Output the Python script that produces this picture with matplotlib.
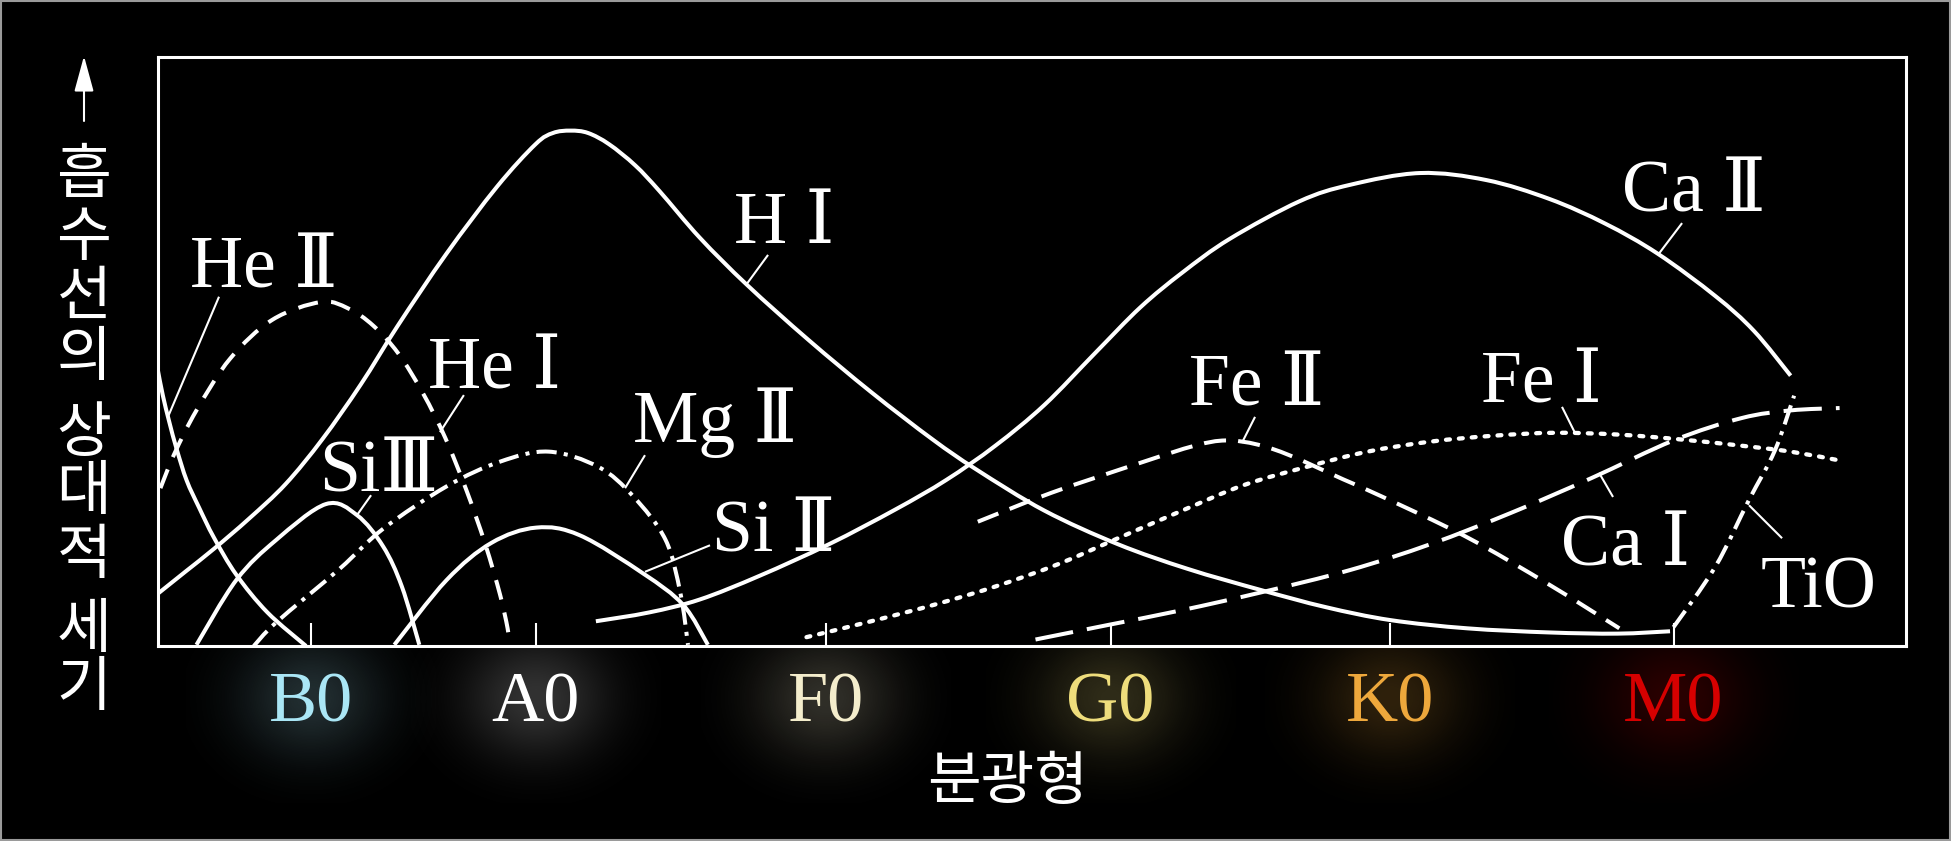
import numpy as np
import matplotlib
matplotlib.use("Agg")
import matplotlib.pyplot as plt
from matplotlib.path import Path
from matplotlib.patches import PathPatch, Rectangle

# ---------------- data (x: position along spectral sequence, % of axis width;
#                        y: relative line strength, % of axis height) -------------
spectral_types = ["B0", "A0", "F0", "G0", "K0", "M0"]
spectral_pos = [8.75, 21.6, 38.2, 54.5, 70.5, 86.7]
spectral_colors = ["#aae6f5", "#ffffff", "#f4edcc", "#eedd7c", "#eea83c", "#d60000"]

HI_x = [0.0, 1.6, 3.2, 5.2, 7.3, 9.4, 11.6, 13.7, 16.5, 19.4, 21.6, 22.6, 23.6, 24.6,
        25.8, 27.3, 28.7, 31.0, 33.7, 37.2, 40.8, 44.3, 46.8, 50.7, 54.9, 58.9, 63.1,
        66.8, 70.5, 74.9, 79.6, 83.5, 86.5]
HI_y = [8.9, 12.7, 16.5, 21.6, 27.5, 35.1, 44.4, 54.3, 66.6, 78.0, 85.2, 87.1, 87.5, 87.1,
        85.2, 81.6, 77.2, 69.3, 61.3, 52.0, 43.1, 35.1, 30.0, 23.0, 17.3, 13.1, 9.5,
        6.6, 4.4, 3.0, 2.3, 2.1, 2.5]

CaII_x = [25.05, 28.1, 31.0, 34.4, 38.4, 42.2, 45.1, 47.9, 50.7, 53.6, 56.2, 58.6, 61.3,
          65.3, 68.2, 72.2, 76.0, 79.6, 82.8, 85.8, 89.1, 91.3, 93.4]
CaII_y = [4.2, 5.7, 7.9, 11.9, 17.3, 23.2, 28.2, 34.0, 40.9, 49.7, 57.5, 63.4, 69.1,
          75.5, 78.3, 80.3, 79.1, 75.9, 71.7, 66.6, 59.4, 53.5, 45.9]

HeII_x = [0.0, 0.28, 0.64, 1.07, 1.64, 2.35, 3.2, 4.48, 6.26, 8.47]
HeII_y = [46.7, 42.5, 38.1, 33.4, 28.1, 23.5, 18.4, 12.1, 5.7, 0.0]

HeI_x = [0.14, 0.93, 2.2, 4.13, 6.55, 9.32, 10.89, 12.31, 13.74, 15.16, 16.44, 17.65,
         18.72, 19.57, 20.0, 20.14]
HeI_y = [26.8, 32.6, 40.0, 48.8, 55.4, 58.4, 57.3, 54.4, 49.7, 42.9, 35.3, 26.4,
         17.3, 8.7, 3.0, 0.0]

SiIII_x = [2.2, 4.48, 6.76, 9.61, 11.39, 12.88, 13.95, 14.95]
SiIII_y = [0.2, 11.2, 18.0, 24.1, 22.2, 16.9, 10.1, 0.2]

SiII_x = [13.52, 16.51, 19.07, 21.64, 24.13, 27.76, 30.04, 31.46]
SiII_y = [0.2, 11.2, 17.5, 20.1, 18.8, 12.3, 7.0, 0.2]

MgII_x = [5.48, 6.76, 10.39, 12.88, 16.51, 19.57, 22.35, 25.2, 27.19, 29.04, 29.89, 30.32]
MgII_y = [0.0, 4.0, 13.1, 19.9, 27.1, 31.3, 33.0, 30.4, 25.4, 18.0, 8.9, 0.2]

FeII_x = [46.9, 51.1, 56.2, 59.3, 61.1, 62.9, 64.8, 67.8, 70.0, 74.8, 79.6, 83.6]
FeII_y = [21.1, 26.0, 31.1, 34.0, 34.9, 34.2, 32.3, 28.3, 25.4, 18.6, 10.4, 3.0]

FeI_x = [37.1, 40.8, 44.4, 47.9, 51.5, 55.0, 58.6, 62.1, 65.7, 69.2, 72.8, 76.4, 79.9,
         83.5, 87.0, 90.6, 93.4, 96.2]
FeI_y = [1.5, 4.2, 7.0, 10.1, 13.9, 18.4, 23.0, 27.3, 30.4, 33.0, 34.7, 35.7, 36.2,
         35.9, 35.1, 34.0, 33.0, 31.5]

CaI_x = [50.2, 54.4, 58.6, 63.1, 68.2, 72.8, 77.4, 82.0, 86.7, 90.6, 93.4, 96.2]
CaI_y = [1.1, 3.6, 6.1, 9.1, 12.9, 17.3, 22.6, 28.5, 34.9, 38.7, 40.0, 40.4]

TiO_x = [86.7, 89.1, 91.0, 92.5, 93.6]
TiO_y = [3.2, 13.5, 24.7, 33.2, 42.5]

# labels: text, label anchor (centre x, baseline y), leader start, leader end
line_labels = ["He Ⅱ", "He Ⅰ", "SiⅢ", "Mg Ⅱ", "Si Ⅱ", "H Ⅰ", "Fe Ⅱ", "Fe Ⅰ", "Ca Ⅱ", "Ca Ⅰ", "TiO"]
label_x = [6.04, 19.25, 12.64, 31.87, 35.24, 35.81, 62.87, 79.12, 87.84, 83.98, 95.0]
label_y = [60.8, 43.8, 26.3, 34.6, 16.0, 68.4, 40.9, 41.3, 73.7, 13.6, 6.5]
leader_x0 = [3.49, 17.5, 12.19, 27.86, 31.58, 34.9, 62.76, 80.32, 87.19, 83.24, 92.91]
leader_y0 = [59.3, 42.6, 25.6, 32.4, 17.1, 66.4, 38.9, 40.6, 71.8, 25.3, 18.3]
leader_x1 = [0.57, 16.13, 11.38, 26.72, 27.86, 33.64, 62.01, 81.06, 85.81, 82.44, 91.02]
leader_y1 = [38.9, 36.3, 22.2, 26.8, 12.6, 61.3, 34.5, 36.2, 66.4, 29.4, 23.9]

ylabel_chars = ["흡", "수", "선", "의", "상", "대", "적", "세", "기"]
xlabel_text = "분광형"

# ---------------- figure ----------------
W, H = 1951, 841
fig = plt.figure(figsize=(W / 100, H / 100), dpi=100, facecolor="black")

bg = fig.add_axes([0, 0, 1, 1], zorder=0)
bg.set_xlim(0, W)
bg.set_ylim(0, H)
bg.set_facecolor("black")
bg.axis("off")

ax = fig.add_axes([158 / W, 195 / H, 1748 / W, 589 / H], zorder=1)
ax.set_facecolor("black")
ax.set_xlim(0, 100)
ax.set_ylim(0, 100)
for s in ax.spines.values():
    s.set_color("white")
    s.set_linewidth(2.2)
ax.set_yticks([])
ax.set_xticks(spectral_pos)
ax.tick_params(axis="x", direction="in", length=16.5, width=1.5, color="white",
               labelbottom=False)

serif = ["Liberation Serif", "DejaVu Serif", "Noto Sans CJK KR"]
kr = ["Noto Sans CJK KR", "DejaVu Sans"]


def smooth_path(xs, ys):
    pts = np.column_stack([xs, ys]).astype(float)
    n = len(pts)
    verts = [pts[0]]
    codes = [Path.MOVETO]
    for i in range(n - 1):
        p0 = pts[i - 1] if i > 0 else pts[i]
        p1 = pts[i]
        p2 = pts[i + 1]
        p3 = pts[i + 2] if i + 2 < n else pts[i + 1]
        verts += [p1 + (p2 - p0) / 6.0, p2 - (p3 - p1) / 6.0, p2]
        codes += [Path.CURVE4] * 3
    return Path(verts, codes)


LW = 2.9
curves = [
    (HI_x, HI_y, "-", "butt", LW),
    (CaII_x, CaII_y, "-", "butt", LW),
    (HeII_x, HeII_y, "-", "butt", LW),
    (SiIII_x, SiIII_y, "-", "butt", LW),
    (SiII_x, SiII_y, "-", "butt", LW),
    (HeI_x, HeI_y, (0, (5, 3.3)), "butt", LW),
    (FeII_x, FeII_y, (0, (5.5, 3.0)), "butt", LW),
    (CaI_x, CaI_y, (0, (9.5, 3.5)), "butt", LW),
    (FeI_x, FeI_y, (0, (0.9, 2.1)), "round", 3.1),
    (MgII_x, MgII_y, (0, (5, 1.8, 1, 1.8)), "butt", LW),
    (TiO_x, TiO_y, (0, (5, 1.8, 1, 1.8)), "butt", LW),
]
for xs, ys, ls, cap, lw in curves:
    p = PathPatch(smooth_path(xs, ys), facecolor="none", edgecolor="white",
                  linewidth=lw, linestyle=ls, capstyle=cap, joinstyle="round",
                  zorder=3)
    ax.add_patch(p)

for i, t in enumerate(line_labels):
    ax.plot([leader_x0[i], leader_x1[i]], [leader_y0[i], leader_y1[i]],
            color="white", lw=1.5, solid_capstyle="butt", zorder=3)
    ax.text(label_x[i], label_y[i], t, family=serif, fontsize=53, color="white",
            ha="center", va="baseline", zorder=4)

# spectral type labels with soft glow
gx = np.linspace(-1, 1, 241)
GX, GY = np.meshgrid(gx, gx)
glow_alpha = 0.2 * np.exp(-3.0 * (GX ** 2 + GY ** 2))
fig.canvas.draw()
for t, xpos, c in zip(spectral_types, spectral_pos, spectral_colors):
    dx, dy = ax.transData.transform((xpos, 0))
    cy = dy - 52
    rgba = np.zeros(GX.shape + (4,))
    rgba[..., :3] = matplotlib.colors.to_rgb(c)
    rgba[..., 3] = glow_alpha
    bg.imshow(rgba, extent=[dx - 125, dx + 125, cy - 105, cy + 105],
              origin="lower", zorder=1, interpolation="bilinear")
    ax.text(xpos, -0.129, t, transform=ax.get_xaxis_transform(), family=serif,
            fontsize=52, color=c, ha="center", va="baseline", clip_on=False, zorder=5)
bg.set_xlim(0, W)
bg.set_ylim(0, H)
bg.set_aspect("auto")

# vertical y-axis label (stacked Hangul characters) and arrow
char_centers = [176, 238, 298, 358, 434, 493, 556, 630, 688]
for ch, cy in zip(ylabel_chars, char_centers):
    bg.text(84, H - cy, ch, family=kr, fontsize=43, fontweight="light", color="white",
            ha="center", va="center", zorder=3)
bg.annotate("", xy=(84, H - 56), xytext=(84, H - 121),
            arrowprops=dict(arrowstyle="-|>,head_length=2.2,head_width=0.6",
                            color="white", lw=1.5, shrinkA=0, shrinkB=0), zorder=3)

bg.text(1008, H - 783, xlabel_text, family=kr, fontsize=42, fontweight="light",
        color="white", ha="center", va="center", zorder=3)

# thin outer frame
fig.patches.append(Rectangle((0.0005, 0.001), 0.999, 0.998, transform=fig.transFigure,
                             fill=False, edgecolor="#9a9a9a", linewidth=1.5))

fig.savefig("out.png", dpi=100, facecolor="black")
